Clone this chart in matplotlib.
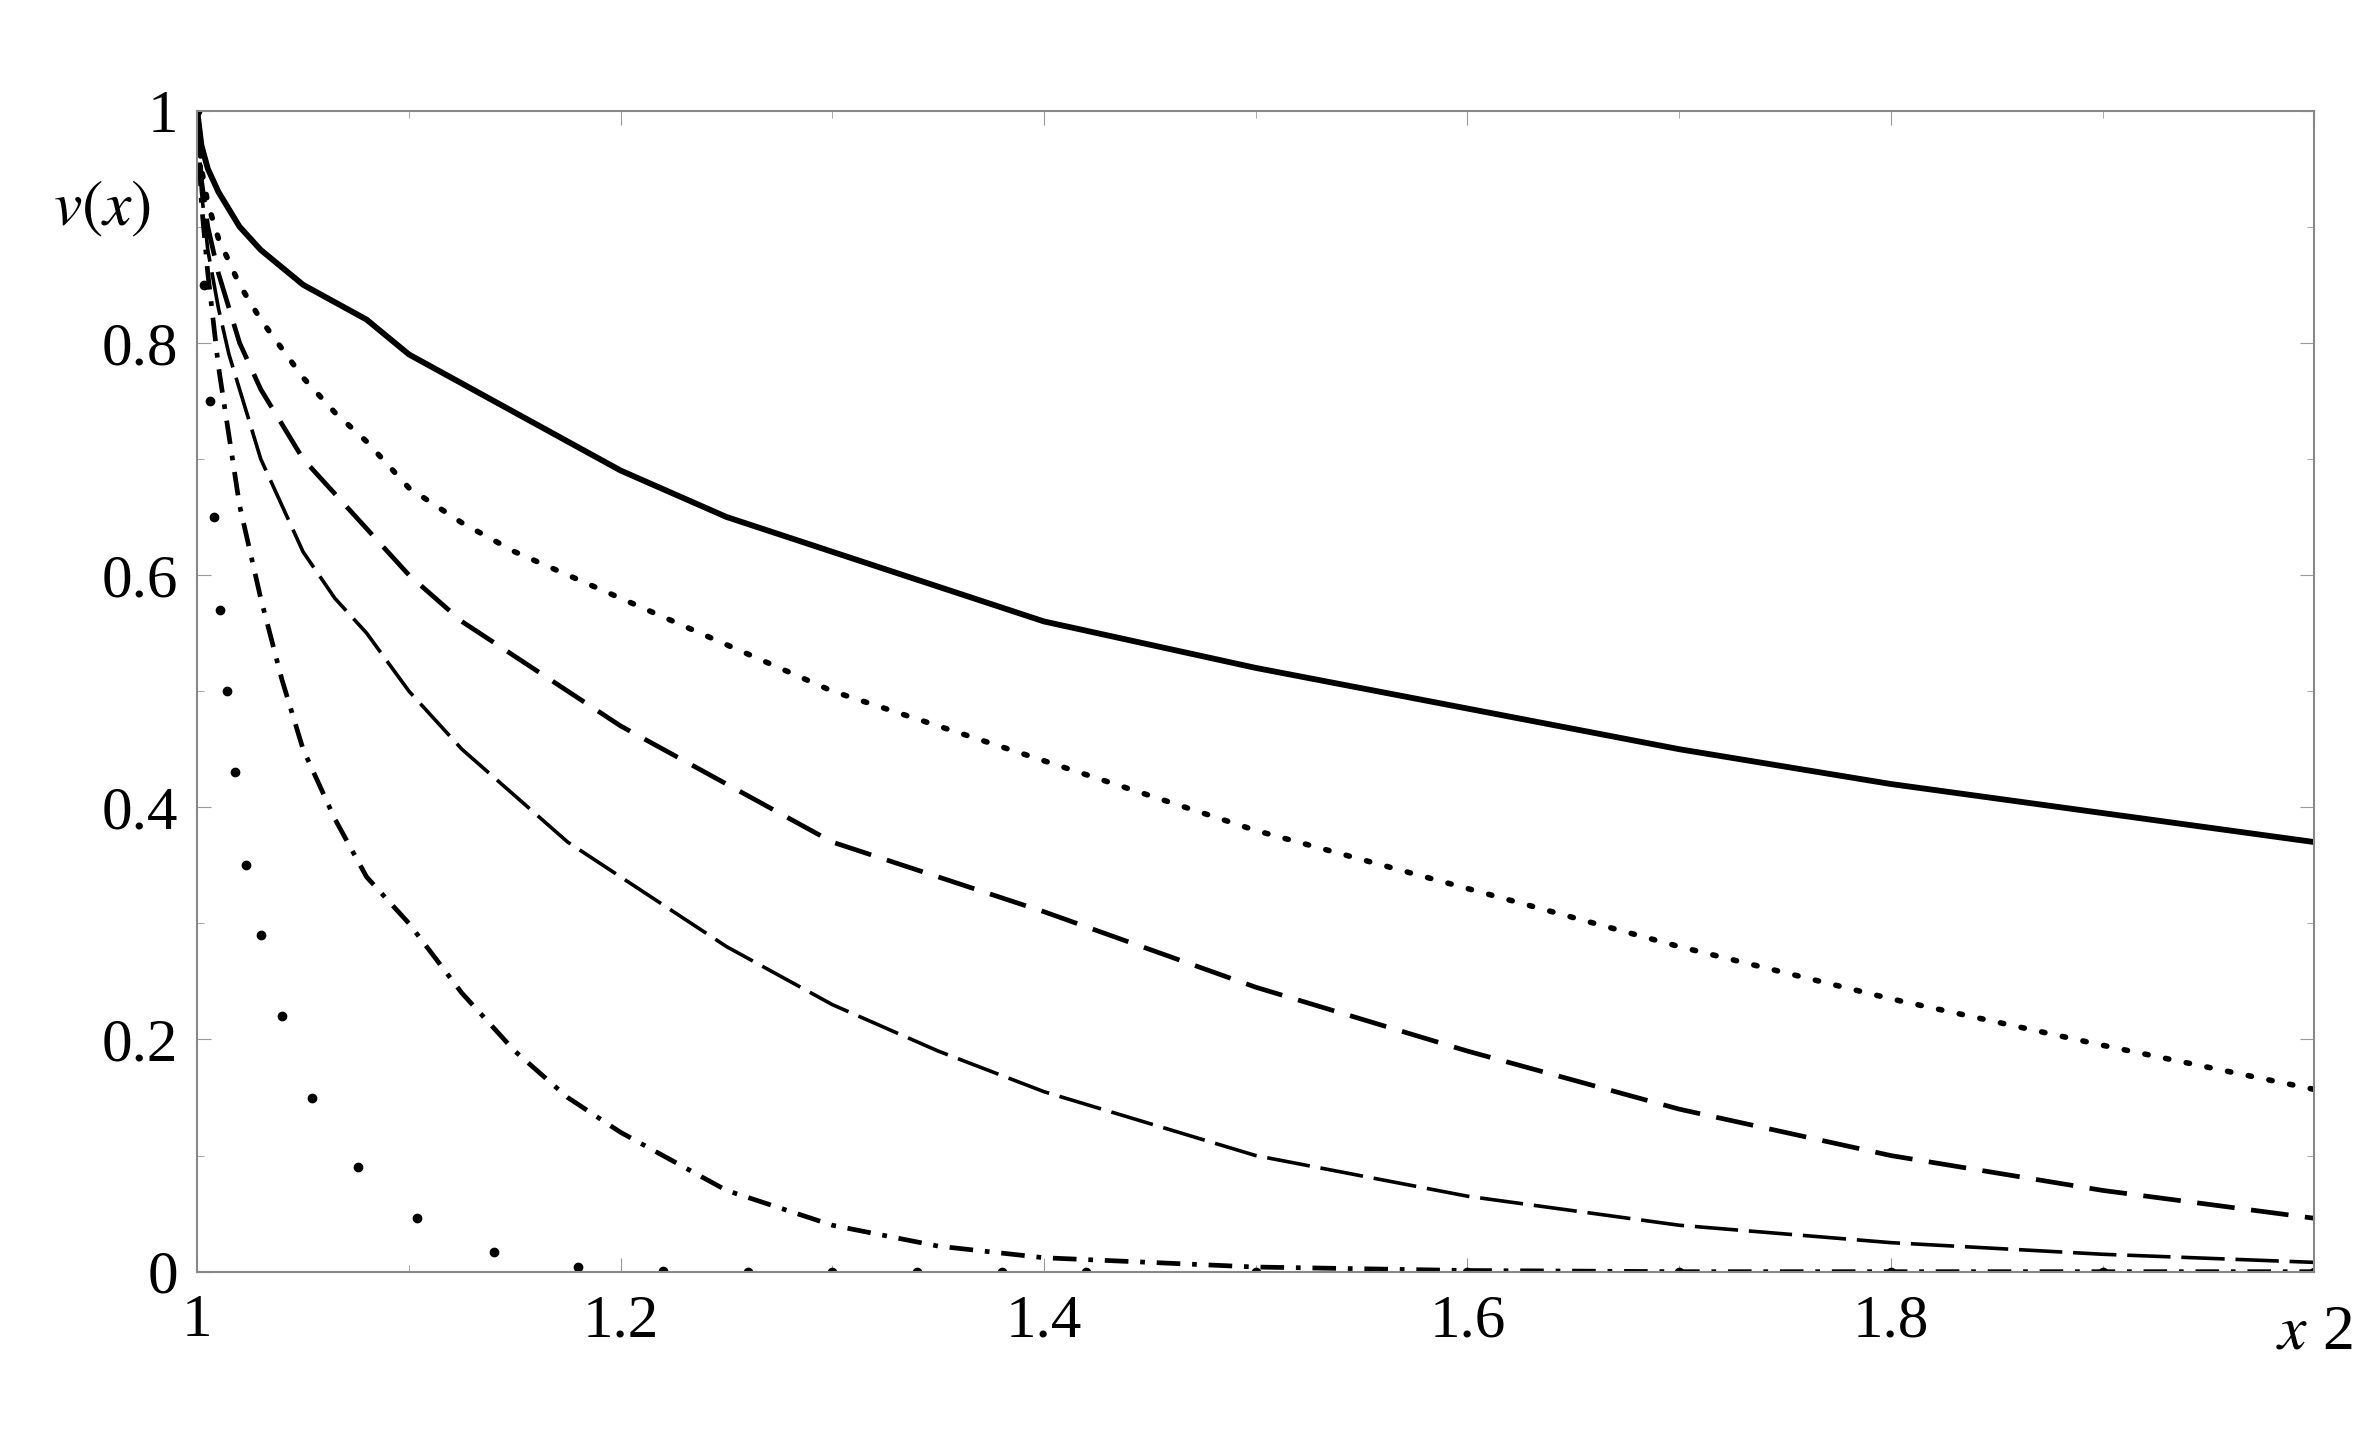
import numpy as np
import matplotlib.pyplot as plt

plt.rcParams['font.family'] = ['Liberation Serif', 'DejaVu Serif']
plt.rcParams['mathtext.fontset'] = 'stix'

x = [1, 1.002, 1.005, 1.01, 1.015, 1.02, 1.03, 1.04, 1.05, 1.065, 1.08, 1.1, 1.125, 1.15, 1.175, 1.2,
     1.25, 1.3, 1.35, 1.4, 1.5, 1.6, 1.7, 1.8, 1.9, 2.0]
v_solid = [1, .97, .95, .93, .915, .9, .88, .865, .85, .835, .82, .79, .765, .74, .715, .69,
           .65, .62, .59, .56, .52, .485, .45, .42, .395, .37]
v_dot = [1, .95, .92, .89, .87, .85, .82, .795, .77, .74, .715, .675, .645, .62, .6, .58,
         .54, .5, .47, .44, .38, .33, .28, .235, .195, .157]
v_dash = [1, .94, .9, .86, .83, .8, .76, .73, .7, .67, .64, .6, .56, .53, .5, .47,
          .42, .37, .34, .31, .245, .19, .14, .1, .07, .046]
v_dash2 = [1, .93, .88, .83, .79, .76, .7, .66, .62, .58, .55, .5, .45, .41, .37, .34,
           .28, .23, .19, .155, .1, .065, .04, .025, .015, .008]
v_dashdot = [1, .92, .86, .78, .72, .66, .58, .51, .45, .39, .34, .3, .24, .19, .15, .12,
             .07, .04, .022, .012, .004, .001, 0, 0, 0, 0]

# sparse big dots
xs = [1.0, 1.003, 1.006, 1.008, 1.011, 1.014, 1.018, 1.023, 1.03, 1.04, 1.054, 1.076, 1.104, 1.14, 1.18, 1.22,
      1.26, 1.3, 1.34, 1.38, 1.42, 1.5, 1.6, 1.7, 1.8, 1.9, 2.0]
vs = [1.0, 0.85, 0.75, 0.65, 0.57, 0.5, 0.43, 0.35, 0.29, 0.22, 0.15, 0.09, 0.046, 0.017, 0.004, 0.001,
      0, 0, 0, 0, 0, 0, 0, 0, 0, 0, 0]

fig = plt.figure(figsize=(23.76, 14.55), dpi=100)
ax = fig.add_axes([0.083, 0.126, 0.891, 0.798])

ax.plot(x, v_solid, color='black', lw=4.2, ls='-')
ax.plot(x, v_dot, color='black', lw=4, ls=(0, (0.6, 3.2)), dash_capstyle='round')
ax.plot(x, v_dash, color='black', lw=3.4, ls=(0, (8, 3.5)))
ax.plot(x, v_dash2, color='black', lw=2.6, ls=(0, (12, 3)))
ax.plot(x, v_dashdot, color='black', lw=3.4, ls=(0, (5, 2.5, 1, 2.5)))
ax.plot(xs, vs, ls='none', marker='o', ms=6, color='black')

ax.set_xlim(1, 2)
ax.set_ylim(0, 1)
ax.set_xticks([1, 1.2, 1.4, 1.6, 1.8, 2.0])
ax.set_xticklabels(['1', '1.2', '1.4', '1.6', '1.8', ''])
ax.set_yticks([0, 0.2, 0.4, 0.6, 0.8, 1])
ax.set_yticklabels(['0', '0.2', '0.4', '0.6', '0.8', '1'])
ax.set_xticks(np.arange(1, 2.01, 0.1), minor=True)
ax.set_yticks(np.arange(0, 1.01, 0.1), minor=True)
ax.tick_params(which='both', direction='in', top=True, right=True, color='#999999', labelsize=44)
ax.tick_params(which='major', length=10)
ax.tick_params(which='minor', length=5)
ax.tick_params(axis='x', pad=16)
ax.tick_params(axis='y', pad=14)
for s in ax.spines.values():
    s.set_color('#888888')
    s.set_linewidth(1.5)

ax.text(1.0, -0.028, r'$x$ 2', transform=ax.transAxes, ha='center', va='top', fontsize=46)
ax.text(-0.068, 0.915, r'$v(x)$', transform=ax.transAxes, ha='left', va='center', fontsize=46)

fig.savefig('out.png', dpi=100)
